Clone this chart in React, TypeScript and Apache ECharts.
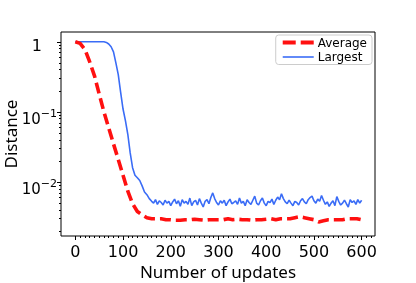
import React, { useEffect, useRef } from "react";
import * as echarts from "echarts";

// x positions (number of updates) for the "Average" series
const averageX = [0, 10, 20, 30, 40, 50, 60, 70, 80, 90, 100, 110, 120, 130, 140, 150, 160, 170, 180, 190, 200, 210, 220, 230, 240, 250, 260, 270, 280, 290, 300, 310, 320, 330, 340, 350, 360, 370, 380, 390, 400, 410, 420, 430, 440, 450, 460, 470, 480, 490, 500, 510, 520, 530, 540, 550, 560, 570, 580, 590, 600];
const averageY = [1.0, 0.95, 0.78, 0.52, 0.33, 0.18, 0.1, 0.059, 0.035, 0.021, 0.0125, 0.0074, 0.0049, 0.0038, 0.0034, 0.0031, 0.003, 0.003, 0.003, 0.0029, 0.0029, 0.00285, 0.00285, 0.0029, 0.0029, 0.00295, 0.0029, 0.00285, 0.0029, 0.0029, 0.0029, 0.0029, 0.003, 0.0029, 0.00295, 0.0029, 0.0029, 0.00285, 0.0029, 0.0029, 0.00295, 0.003, 0.0029, 0.003, 0.003, 0.003, 0.0031, 0.0032, 0.0031, 0.003, 0.0029, 0.0027, 0.0028, 0.0029, 0.0029, 0.0029, 0.0029, 0.003, 0.003, 0.003, 0.0029];

// "Largest" series: head (plateau + drop) and noisy tail
const largestHeadX = [0, 10, 20, 30, 40, 50, 60, 65, 70, 75, 80, 85, 90, 95, 100, 105, 110, 115, 120, 125, 130, 135, 140, 145, 150, 155];
const largestHeadY = [1.0, 1.0, 1.0, 1.0, 1.0, 1.0, 1.0, 0.98, 0.93, 0.85, 0.72, 0.5, 0.34, 0.19, 0.11, 0.075, 0.048, 0.026, 0.016, 0.0125, 0.0115, 0.0105, 0.0088, 0.0072, 0.0066, 0.0058];
const largestTailStart = 160;
const largestTailStep = 4;
const largestTailY = [
  0.0053, 0.005, 0.0056, 0.0048, 0.0054, 0.0051, 0.0047, 0.0055, 0.005, 0.0053,
  0.0046, 0.0052, 0.0057, 0.0049, 0.0054, 0.0045, 0.0056, 0.005, 0.0053, 0.0048,
  0.0059, 0.0046, 0.0052, 0.0055, 0.0047, 0.0058, 0.005, 0.0044, 0.0053, 0.0056,
  0.0049, 0.006, 0.007, 0.0058, 0.0051, 0.0047, 0.0054, 0.005, 0.0055, 0.0046,
  0.0052, 0.0057, 0.0049, 0.0051, 0.0054, 0.0048, 0.0059, 0.005, 0.0053, 0.0046,
  0.0056, 0.0051, 0.0048, 0.0055, 0.0063, 0.005, 0.0047, 0.0054, 0.0059, 0.005,
  0.0046, 0.0053, 0.0051, 0.0057, 0.0048, 0.0055, 0.0061, 0.0056, 0.0068, 0.0058,
  0.0052, 0.0049, 0.0055, 0.005, 0.0046, 0.0053, 0.0051, 0.0047, 0.0054, 0.0058,
  0.0052, 0.0049, 0.0056, 0.006, 0.0063, 0.0054, 0.005, 0.0057, 0.0053, 0.0064,
  0.0055, 0.0048, 0.0052, 0.0045, 0.005, 0.0054, 0.0046, 0.0062, 0.0053, 0.0047,
  0.005, 0.0055, 0.0049, 0.0044, 0.0056, 0.0051, 0.0054, 0.0048, 0.0056, 0.005,
  0.0055,
];

const xTicks = [0, 100, 200, 300, 400, 500, 600];
const yTickExponents = [-2, -1, 0];

const X_MIN = -30;
const X_MAX = 628;
const Y_MIN = -2.77; // log10 of lower bound
const Y_MAX = 0.14; // log10 of upper bound

const RED = "#ff1010";
const BLUE = "#3a6cf6";

export default function App() {
  const ref = useRef<HTMLDivElement>(null);
  useEffect(() => {
    if (!ref.current) return;
    const chart = echarts.init(ref.current, undefined, { renderer: "svg" });

    const avgData = averageX.map((x, i) => [x, Math.log10(averageY[i])]);
    const largestData = largestHeadX
      .map((x, i) => [x, Math.log10(largestHeadY[i])])
      .concat(largestTailY.map((v, i) => [largestTailStart + i * largestTailStep, Math.log10(v)]));

    const xMinor: number[] = [];
    for (let v = 0; v <= 620; v += 10) if (v % 100 !== 0) xMinor.push(v);
    const yMinor: number[] = [];
    for (let e = -3; e <= 0; e++) {
      for (let k = 2; k <= 9; k++) {
        const lv = e + Math.log10(k);
        if (lv >= Y_MIN && lv <= Y_MAX) yMinor.push(lv);
      }
    }

    const tickFont = "DejaVu Sans";
    const titleFont = "Noto Sans";

    chart.setOption({
      animation: false,
      grid: {
        left: 61, top: 32, right: 41, bottom: 47,
        outerBoundsMode: "none",
        containLabel: false,
        show: true, borderColor: "#000", borderWidth: 1, backgroundColor: "transparent",
      },
      legend: {
        data: [
          { name: "Average", icon: "path://M0,0H13V4H0Z M18,0H31V4H18Z", itemStyle: { color: RED } },
          { name: "Largest", icon: "path://M0,0H31V1.6H0Z", itemStyle: { color: BLUE } },
        ],
        orient: "vertical",
        right: 44,
        top: 35,
        padding: [1, 5, 1, 7],
        itemWidth: 31,
        itemHeight: 4,
        itemGap: 1.5,
        symbolKeepAspect: true,
        borderColor: "#cccccc",
        borderWidth: 1,
        borderRadius: 3,
        textStyle: { fontFamily: tickFont, fontSize: 12, color: "#000", padding: [0, 0, 0, -1], lineHeight: 13 },
      },
      xAxis: [
        {
          type: "value",
          min: X_MIN,
          max: X_MAX,
          name: "Number of updates",
          nameLocation: "middle",
          nameGap: 27,
          nameMoveOverlap: false,
          nameTextStyle: { fontFamily: titleFont, fontSize: 17, lineHeight: 17, color: "#000" },
          axisLine: { show: false, onZero: false },
          splitLine: { show: false },
          axisTick: { show: true, customValues: xTicks, length: 4, lineStyle: { color: "#000" } },
          axisLabel: { customValues: xTicks, fontFamily: tickFont, fontSize: 16, lineHeight: 16, color: "#000", margin: 7.5 },
        },
        {
          type: "value",
          min: X_MIN,
          max: X_MAX,
          position: "bottom",
          axisLine: { show: false, onZero: false },
          splitLine: { show: false },
          axisTick: { show: true, customValues: xMinor, length: 2, lineStyle: { color: "#000" } },
          axisLabel: { show: false },
        },
      ],
      yAxis: [
        {
          type: "value",
          min: Y_MIN,
          max: Y_MAX,
          name: "Distance",
          nameLocation: "middle",
          nameGap: 42,
          nameMoveOverlap: false,
          nameTextStyle: { fontFamily: titleFont, fontSize: 17, lineHeight: 17, color: "#000" },
          axisLine: { show: false, onZero: false },
          splitLine: { show: false },
          axisTick: { show: true, customValues: yTickExponents, length: 4, lineStyle: { color: "#000" } },
          axisLabel: {
            customValues: yTickExponents,
            fontFamily: tickFont,
            fontSize: 15,
            color: "#000",
            margin: 4,
            formatter: (v: number) => {
              const e = Math.round(v);
              if (e === 0) return "{one|1}";
              return "{base|10}{sup|\u2212" + Math.abs(e) + "}";
            },
            rich: {
              one: { fontFamily: tickFont, fontSize: 16, lineHeight: 16, color: "#000", padding: [7, 15, 0, 0] },
              base: { fontFamily: tickFont, fontSize: 15, lineHeight: 15, color: "#000", padding: [14, 0, 0, 0] },
              sup: { fontFamily: tickFont, fontSize: 11, lineHeight: 11, color: "#000", padding: [3.4, 0, 0, 0] },
            },
          },
        },
        {
          type: "value",
          min: Y_MIN,
          max: Y_MAX,
          position: "left",
          axisLine: { show: false, onZero: false },
          splitLine: { show: false },
          axisTick: { show: true, customValues: yMinor, length: 2, lineStyle: { color: "#000" } },
          axisLabel: { show: false },
        },
      ],
      series: [
        {
          name: "Largest",
          type: "line",
          data: largestData,
          showSymbol: false,
          symbol: "none",
          lineStyle: { color: BLUE, width: 1.6 },
          itemStyle: { color: BLUE },
          z: 2,
        },
        {
          name: "Average",
          type: "line",
          data: avgData,
          showSymbol: false,
          symbol: "none",
          lineStyle: { color: RED, width: 3.6, type: [11, 5] },
          itemStyle: { color: RED },
          z: 3,
        },
      ],
    });
    return () => chart.dispose();
  }, []);
  return <div ref={ref} style={{ position: "fixed", left: 0, top: 0, width: 416, height: 283 }} />;
}
